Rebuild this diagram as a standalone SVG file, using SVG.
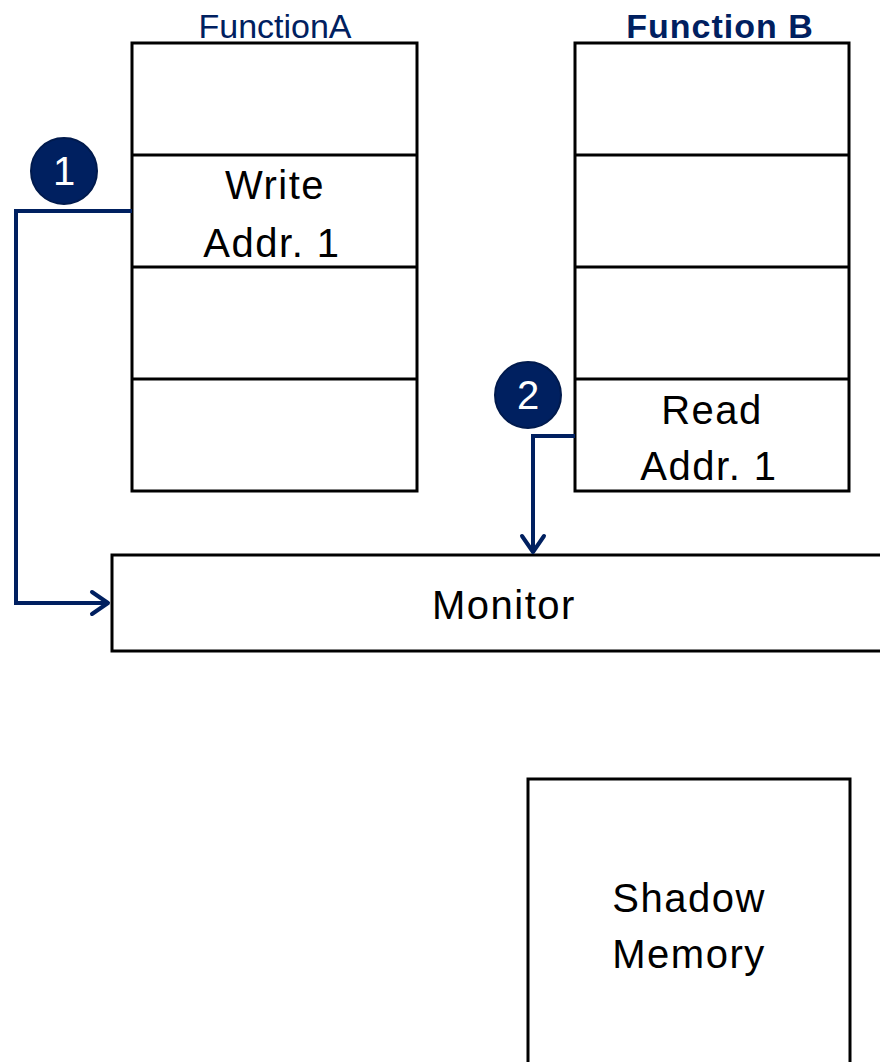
<svg xmlns="http://www.w3.org/2000/svg" width="880" height="1062" viewBox="0 0 880 1062">
<style>
.box{fill:#fff;stroke:#000;stroke-width:3}
.ln{stroke:#000;stroke-width:3}
.t{font-family:"Liberation Sans",Arial,sans-serif;font-size:40px;letter-spacing:1.5px;fill:#000;text-anchor:middle}
.hd{font-family:"Liberation Sans",Arial,sans-serif;font-size:34px;fill:#002060;text-anchor:middle}
.badge{fill:#002060;stroke:#001a4d;stroke-width:2}
.bt{font-family:"Liberation Sans",Arial,sans-serif;font-size:40px;fill:#fff;text-anchor:middle}
.conn{fill:none;stroke:#002060;stroke-width:4}
</style>
<rect width="880" height="1062" fill="#fff"/>
<g id="functionA">
<text class="hd" x="275" y="38">FunctionA</text>
<rect class="box" x="132" y="43" width="285" height="448"/>
<line class="ln" x1="132" y1="155" x2="417" y2="155"/>
<line class="ln" x1="132" y1="267" x2="417" y2="267"/>
<line class="ln" x1="132" y1="379" x2="417" y2="379"/>
<text class="t" x="275" y="199">Write</text>
<text class="t" x="272" y="257">Addr. 1</text>
</g>
<g id="functionB">
<text class="hd" x="720" y="38" font-weight="bold" letter-spacing="1">Function B</text>
<rect class="box" x="575" y="43" width="274" height="448"/>
<line class="ln" x1="575" y1="155" x2="849" y2="155"/>
<line class="ln" x1="575" y1="267" x2="849" y2="267"/>
<line class="ln" x1="575" y1="379" x2="849" y2="379"/>
<text class="t" x="712" y="424">Read</text>
<text class="t" x="709" y="480">Addr. 1</text>
</g>
<g id="monitor">
<rect class="box" x="112" y="555" width="780" height="96"/>
<text class="t" x="504" y="619">Monitor</text>
</g>
<g id="shadow">
<rect class="box" x="528" y="779" width="322" height="300"/>
<text class="t" x="689" y="912">Shadow</text>
<text class="t" x="689" y="968">Memory</text>
</g>
<g id="connectors">
<polyline class="conn" points="132,211 16,211 16,603 108,603"/>
<polyline class="conn" points="92,592 108,603 92,614" stroke-linecap="round" stroke-linejoin="round"/>
<polyline class="conn" points="575,436 533,436 533,552"/>
<polyline class="conn" points="522,536 533,552 544,536" stroke-linecap="round" stroke-linejoin="round"/>
</g>
<g id="badge1">
<circle class="badge" cx="64" cy="171" r="33"/>
<text class="bt" x="64" y="185">1</text>
</g>
<g id="badge2">
<circle class="badge" cx="528" cy="395" r="33"/>
<text class="bt" x="528" y="409">2</text>
</g>
</svg>
